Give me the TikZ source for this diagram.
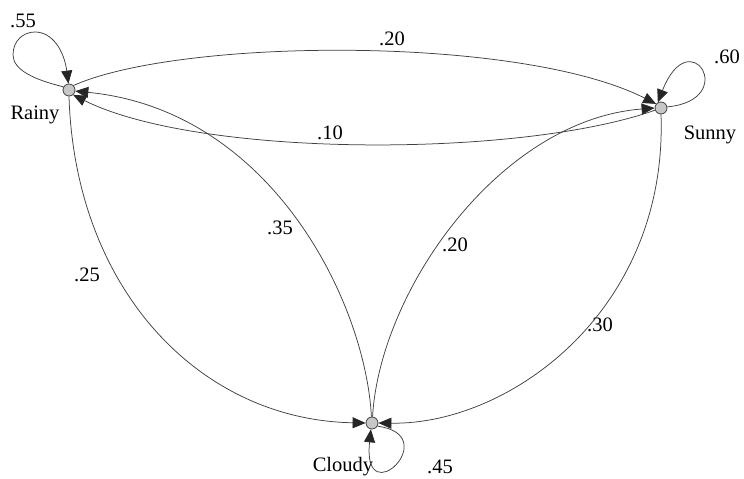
\documentclass[tikz,border=0pt]{standalone}
\usepackage{fontspec}
\setmainfont{Liberation Serif}
\usetikzlibrary{arrows.meta}
\begin{document}
\begin{tikzpicture}[x=1pt,y=-1pt,
  state/.style={circle,draw=black!75,fill=black!22,line width=0.8pt,minimum size=12pt,inner sep=0pt},
  edge/.style={draw=black!75,line width=0.75pt,-{Triangle[length=13pt,width=11pt,black!85]}},
  lbl/.style={font=\fontsize{20.5}{20.5}\selectfont,inner sep=0pt}]
\useasboundingbox (0,0) rectangle (744,479);
\node[state] (R) at (69,90) {};
\node[state] (S) at (661,108) {};
\node[state] (C) at (372,423) {};
% texts
\node[lbl] (tR) at (35,115) {Rainy};
\node[lbl] (tS) at (710,135) {Sunny};
\node[lbl] (tC) at (343,467) {Cloudy};
\node[lbl] (l55) at (23,21) {.55};
\node[lbl] (l60) at (727,57) {.60};
\node[lbl] (l45) at (440,467) {.45};
\node[lbl] (l20a) at (392,39) {.20};
\node[lbl] (l10) at (330,133) {.10};
\node[lbl] (l35) at (280,228) {.35};
\node[lbl] (l25) at (87,275) {.25};
\node[lbl] (l20b) at (455,245) {.20};
\node[lbl] (l30) at (600,325) {.30};
% edges
\draw[edge] (R.45) .. controls (180,38) and (520,35) .. (S.140);
\draw[edge] (S.200) .. controls (520,158) and (200,158) .. (R.-50);
\draw[edge] (C.95) .. controls (365,300) and (270,110) .. (R.-10);
\draw[edge] (R.-90) .. controls (75,290) and (200,420) .. (C.180);
\draw[edge] (C.85) .. controls (380,290) and (500,120) .. (S.180);
\draw[edge] (S.-90) .. controls (668,310) and (510,425) .. (C.0);
% loops
\draw[edge] (R.150) .. controls (35,80) and (13,70) .. (13,55)
  .. controls (13,40) and (24,32) .. (35,32)
  .. controls (52,32) and (64,50) .. (R.95);
\draw[edge] (S.10) .. controls (740,100) and (690,20) .. (S.120);
\draw[edge] (C.-30) .. controls (445,435) and (362,515) .. (C.-100);
\end{tikzpicture}
\end{document}
